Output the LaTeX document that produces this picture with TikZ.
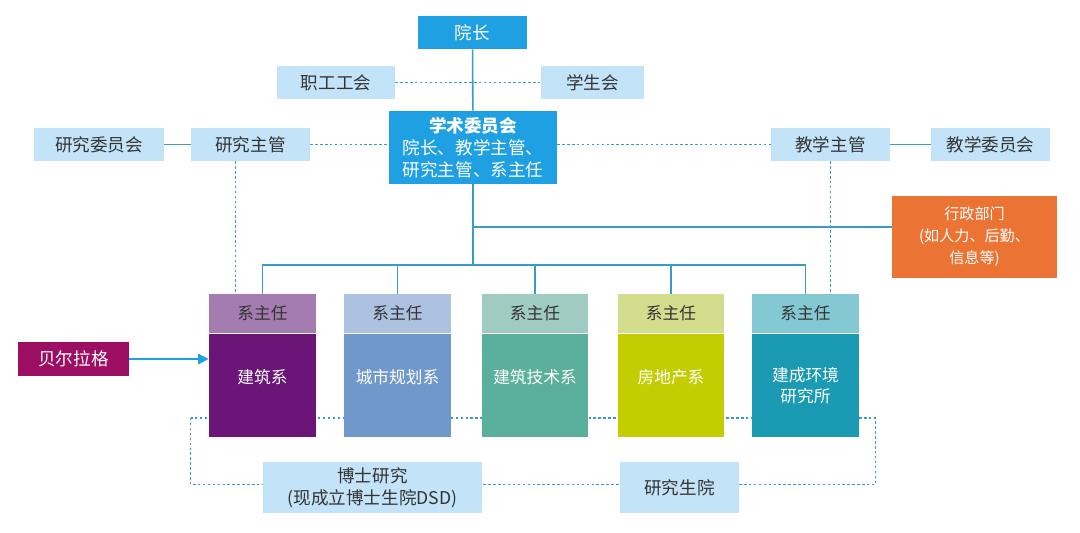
\documentclass[tikz,border=0pt]{standalone}
\usepackage{fontspec}
\setmainfont{Noto Sans CJK SC}
\usetikzlibrary{positioning,arrows.meta,calc,backgrounds}
\definecolor{deanblue}{HTML}{1FA0E3}
\definecolor{paleblue}{HTML}{C3E4F8}
\definecolor{linkblue}{HTML}{3A9CC6}
\definecolor{adminorange}{HTML}{EB7434}
\definecolor{berlage}{HTML}{9C0E62}
\definecolor{ink}{HTML}{333333}
\definecolor{archhead}{HTML}{A57CB0}
\definecolor{archbody}{HTML}{6B1578}
\definecolor{planhead}{HTML}{ADC2E0}
\definecolor{planbody}{HTML}{7098CB}
\definecolor{techhead}{HTML}{9FCBC0}
\definecolor{techbody}{HTML}{5AAF9D}
\definecolor{realhead}{HTML}{D2DE8E}
\definecolor{realbody}{HTML}{C3CD02}
\definecolor{envhead}{HTML}{84C8D3}
\definecolor{envbody}{HTML}{1A9AB3}
\tikzset{
  pbox/.style={fill=paleblue, text=ink, minimum height=0.66cm, align=center, inner sep=2pt},
  dbox/.style={fill=deanblue, text=white, align=center, inner sep=2pt},
  head/.style={minimum width=2.14cm, minimum height=0.78cm, text=ink, inner sep=0pt,
    font=\fontsize{9.5pt}{12pt}\selectfont},
  body/.style={minimum width=2.14cm, minimum height=2.06cm, text=white, align=center, inner sep=0pt,
    font=\fontsize{9.5pt}{12pt}\selectfont},
  oneline/.style={text depth=0.34cm},
  conn/.style={draw=linkblue, line width=0.9pt},
  dot/.style={draw=linkblue, line width=0.9pt, dash pattern=on 1.4pt off 1.4pt},
}

\begin{document}
\begin{tikzpicture}[x=0.02cm, y=-0.02cm, font=\fontsize{10pt}{12.5pt}\selectfont]
    \useasboundingbox (0,0) rectangle (1080,532);
    % top
    \node[dbox, minimum width=2.18cm, minimum height=0.66cm] (dean) at (472.5,32.5) {院长};
    \node[pbox, minimum width=2.36cm] (staff) at (336,82.5) {职工工会};
    \node[pbox, minimum width=2.06cm] (stud) at (592.5,82.5) {学生会};
    \node[dbox, minimum width=3.36cm, minimum height=1.46cm] (acad) at (473,147.5)
      {{\bfseries 学术委员会}\\院长、教学主管、\\研究主管、系主任};
    \node[pbox, minimum width=2.6cm] (rcom) at (99,144.5) {研究委员会};
    \node[pbox, minimum width=2.38cm] (rsup) at (250.5,144.5) {研究主管};
    \node[pbox, minimum width=2.38cm] (tsup) at (830.5,144.5) {教学主管};
    \node[pbox, minimum width=2.38cm] (tcom) at (990.5,144.5) {教学委员会};
    \node[fill=adminorange, text=white, align=center, minimum width=3.3cm, minimum height=1.64cm,
      font=\fontsize{8.6pt}{12.5pt}\selectfont] (admin) at (974.5,237) {行政部门\\(如人力、后勤、\\信息等)};
    % departments
    \node[head, fill=archhead] (h1) at (262.5,313.5) {系主任};
    \node[body, oneline, fill=archbody, below=0pt of h1] (b1) {建筑系};
    \node[head, fill=planhead] (h2) at (397.5,313.5) {系主任};
    \node[body, oneline, fill=planbody, below=0pt of h2] (b2) {城市规划系};
    \node[head, fill=techhead] (h3) at (535,313.5) {系主任};
    \node[body, oneline, fill=techbody, below=0pt of h3] (b3) {建筑技术系};
    \node[head, fill=realhead] (h4) at (671,313.5) {系主任};
    \node[body, oneline, fill=realbody, below=0pt of h4] (b4) {房地产系};
    \node[head, fill=envhead] (h5) at (805.5,313.5) {系主任};
    \node[body, fill=envbody, below=0pt of h5] (b5) {建成环境\\研究所};
    \node[fill=berlage, text=white, minimum width=2.22cm, minimum height=0.68cm] (berl) at (73.5,359) {贝尔拉格};
    \node[pbox, minimum width=4.38cm, minimum height=1.02cm] (dsd) at (372.5,487.5) {博士研究\\(现成立博士生院DSD)};
    \node[pbox, minimum width=2.38cm, minimum height=1.02cm] (grad) at (679.5,487.5) {研究生院};
    % links
    \coordinate (bus) at (473,265);
    \coordinate (adm) at (473,227);
    \begin{scope}[on background layer]
      \fill[white] (0,0) rectangle (1080,532);
      \draw[conn] (dean) -- (acad);
      \draw[dot] (staff) -- (stud);
      \draw[dot] ([xshift=-18*0.02cm,yshift=19*0.02cm]b1.south west) rectangle ($(b5.south east |- dsd.east)+(16,-3)$);
    \end{scope}
    \draw[conn] (rcom) -- (rsup);
    \draw[conn] (tsup) -- (tcom);
    \draw[dot] (rsup.east) -- (rsup.east -| acad.west);
    \draw[dot] (acad.east |- tsup.west) -- (tsup.west);
    \draw[conn] (acad.south) -- (bus);
    \draw[conn] (adm) -- (adm -| admin.west);
    \foreach \i in {1,...,5}
      \draw[conn] (bus) -| (h\i.north);
    \draw[dot] ([xshift=-0.3cm]rsup.south) -- ([xshift=-0.3cm]rsup.south |- h1.north);
    \draw[dot] (tsup.south) -- (tsup.south |- h5.north);
    \draw[conn, draw=deanblue, -{Triangle[length=6pt,width=6pt]}] (berl) -- (berl -| b1.west);
  \end{tikzpicture}
\end{document}
